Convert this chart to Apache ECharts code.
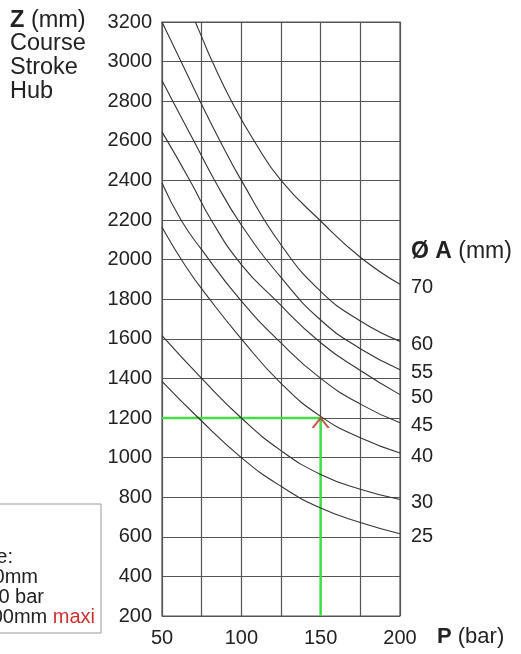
<!DOCTYPE html>
<html>
<head>
<meta charset="utf-8">
<script src="https://cdn.jsdelivr.net/npm/echarts@6/dist/echarts.min.js"></script>
<style>
html,body{margin:0;padding:0;background:#fff;}
#c{width:521px;height:654px;}
</style>
</head>
<body>
<div id="c"></div>
<script>
// X axis: pressure P (bar); Y axis: stroke Z (mm)
const xTicks = [50, 100, 150, 200];
const diameters = ['70', '60', '55', '50', '45', '40', '30', '25'];
const c70 = [[71,3200],[75,3125],[81.7,3000],[93.8,2800],[108,2600],[125,2400],[150,2195],[175,2012],[200,1875]];
const c60 = [[50,3200],[62,3000],[74,2800],[86.5,2600],[100,2400],[125,2075],[150,1840],[175,1690],[200,1587]];
const c55 = [[50,2904],[56.8,2800],[70,2600],[83.2,2400],[100,2175],[125,1910],[150,1695],[175,1550],[200,1444]];
const c50 = [[50,2645],[67.6,2400],[81,2200],[100,1975],[121,1800],[150,1580],[175,1440],[200,1318]];
const c45 = [[50,2387],[62,2200],[75,2050],[99,1800],[125,1579],[150,1400],[175,1270],[200,1176]];
const c40 = [[50,2163],[65,1965],[80,1800],[100,1600],[125,1375],[150,1208],[175,1100],[200,1023]];
const c30 = [[50,1616],[75,1400],[100,1200],[125,1035],[150,915],[175,840],[200,788]];
const c25 = [[50,1385],[73,1200],[100,1000],[125,855],[150,745],[175,672],[200,615]];
const curves = [c70, c60, c55, c50, c45, c40, c30, c25];
const examplePath = [[50,1200],[150,1200],[150,200]];
const examplePoint = [[150,1200]];

const FONT = "'Liberation Sans', Arial, sans-serif";
const chart = echarts.init(document.getElementById('c'), null, {renderer: 'canvas'});

const curveSeries = curves.map((d, i) => ({
  name: diameters[i],
  type: 'line',
  data: d,
  smooth: 0.5,
  showSymbol: false,
  symbol: 'none',
  clip: true,
  lineStyle: {color: '#333', width: 1.1},
  z: 4,
  endLabel: {
    show: true,
    formatter: '{a}',
    distance: 11,
    offset: [0, 3],
    color: '#222',
    fontSize: 20,
    fontFamily: FONT
  },
  emphasis: {disabled: true}
}));

chart.setOption({
  animation: false,
  backgroundColor: '#fff',
  grid: {left: 162, top: 22, right: 121, bottom: 38, show: true, borderColor: '#555', borderWidth: 1.2, containLabel: false},
  xAxis: {
    type: 'value', min: 50, max: 200, interval: 25,
    axisLine: {show: false}, axisTick: {show: false},
    splitLine: {show: true, lineStyle: {color: '#555', width: 1.2}},
    axisLabel: {
      margin: 12, color: '#222', fontSize: 20, fontFamily: FONT,
      formatter: v => (xTicks.indexOf(v) >= 0 ? String(v) : '')
    }
  },
  yAxis: {
    type: 'value', min: 200, max: 3200, interval: 200,
    axisLine: {show: false}, axisTick: {show: false},
    splitLine: {show: true, lineStyle: {color: '#555', width: 1.2}},
    axisLabel: {margin: 10, color: '#222', fontSize: 20, fontFamily: FONT, formatter: v => String(v)}
  },
  series: curveSeries.concat([
    {
      type: 'line', data: examplePath, showSymbol: false, symbol: 'none',
      lineStyle: {color: '#44dd44', width: 2.5}, z: 3, emphasis: {disabled: true}
    },
    {
      type: 'scatter', data: examplePoint,
      symbol: 'path://M0,10 L8,0 L16,10', symbolSize: [16, 10], symbolOffset: [0, 5],
      itemStyle: {color: 'rgba(0,0,0,0)', borderColor: '#b8352a', borderWidth: 2},
      z: 6, emphasis: {disabled: true}
    }
  ]),
  graphic: [
    {type: 'text', x: 10, y: 21, z: 10, style: {
      text: '{b|Z} (mm)', font: '23.5px ' + FONT, fill: '#222', verticalAlign: 'middle',
      rich: {b: {fontWeight: 'bold', fontSize: 23.5, fontFamily: FONT, fill: '#222'}}
    }},
    {type: 'text', x: 10, y: 44, z: 10, style: {text: 'Course', font: '23.5px ' + FONT, fill: '#222', verticalAlign: 'middle'}},
    {type: 'text', x: 10, y: 68, z: 10, style: {text: 'Stroke', font: '23.5px ' + FONT, fill: '#222', verticalAlign: 'middle'}},
    {type: 'text', x: 10, y: 92, z: 10, style: {text: 'Hub', font: '23.5px ' + FONT, fill: '#222', verticalAlign: 'middle'}},
    {type: 'text', x: 411, y: 252, z: 10, style: {
      text: '{b|Ø A} (mm)', font: '23px ' + FONT, fill: '#222', verticalAlign: 'middle',
      rich: {b: {fontWeight: 'bold', fontSize: 23, fontFamily: FONT, fill: '#222'}}
    }},
    {type: 'text', x: 437, y: 637, z: 10, style: {
      text: '{b|P} (bar)', font: '22px ' + FONT, fill: '#222', verticalAlign: 'middle',
      rich: {b: {fontWeight: 'bold', fontSize: 22, fontFamily: FONT, fill: '#222'}}
    }},
    {type: 'rect', z: 9, shape: {x: -10, y: 504, width: 111, height: 129},
      style: {fill: '#fff', stroke: '#999', lineWidth: 1}},
    {type: 'text', x: 13, y: 557, z: 10, style: {text: 'Exemple:', font: '20px ' + FONT, fill: '#222', align: 'right', verticalAlign: 'middle'}},
    {type: 'text', x: 38, y: 577, z: 10, style: {text: 'Ø A 40mm', font: '20px ' + FONT, fill: '#222', align: 'right', verticalAlign: 'middle'}},
    {type: 'text', x: 44, y: 597, z: 10, style: {text: 'P 150 bar', font: '20px ' + FONT, fill: '#222', align: 'right', verticalAlign: 'middle'}},
    {type: 'text', x: 95, y: 617, z: 10, style: {
      text: 'Z 1200mm {r|maxi}', font: '20px ' + FONT, fill: '#222', align: 'right', verticalAlign: 'middle',
      rich: {r: {fill: '#d03030', fontSize: 20, fontFamily: FONT}}
    }}
  ]
});
</script>
</body>
</html>
